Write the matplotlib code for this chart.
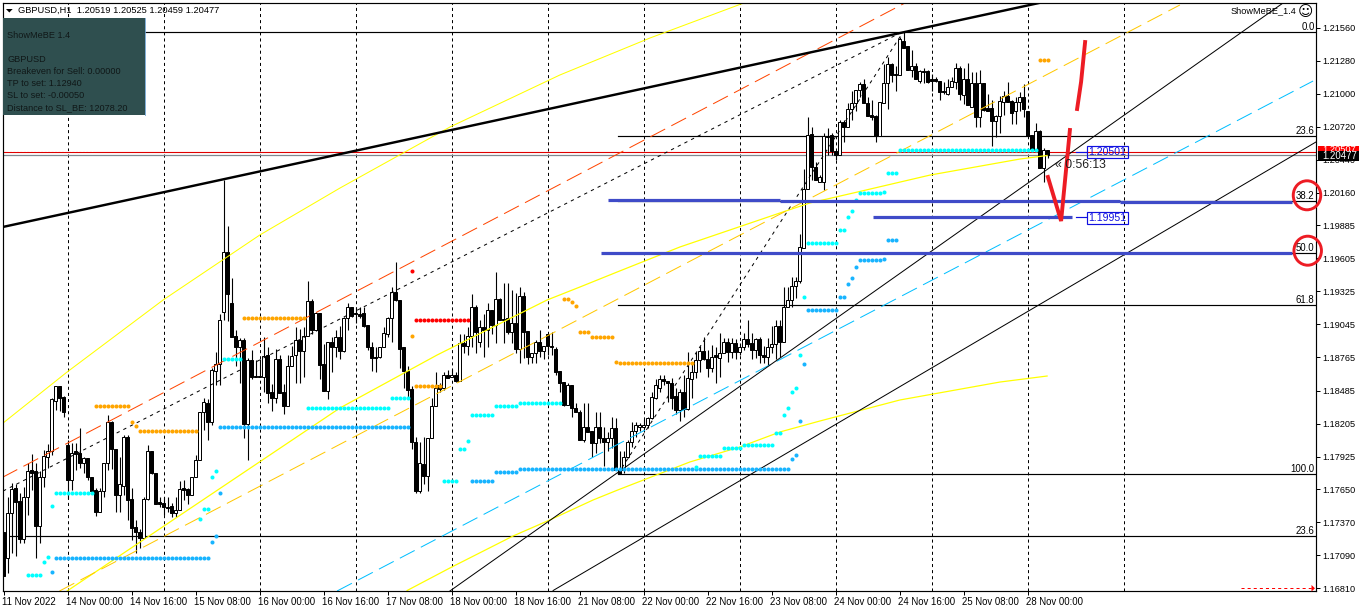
import numpy as np
import matplotlib
matplotlib.use('Agg')
import matplotlib.pyplot as plt
from matplotlib.patches import Ellipse, Rectangle
from matplotlib.transforms import ScaledTranslation

plt.rcParams['lines.scale_dashes'] = False
plt.rcParams['font.family'] = ['Liberation Sans', 'DejaVu Sans']

# GBPUSD H1 candles: values are the price in pips above 1.0000
opens = [1729,1707,1745,1766,1755,1723,1758,1781,1780,1734,
1775,1792,1797,1840,1852,1843,1802,1773,1797,1796,
1787,1791,1775,1764,1746,1763,1787,1822,1799,1760,
1768,1809,1757,1733,1729,1724,1757,1797,1779,1754,
1753,1750,1751,1745,1747,1766,1765,1760,1775,1790,
1830,1838,1822,1865,1871,1915,1966,1923,1895,1885,
1891,1820,1874,1861,1861,1860,1879,1847,1842,1875,
1847,1835,1869,1879,1891,1882,1895,1924,1900,1914,
1871,1848,1890,1885,1894,1882,1910,1919,1914,1913,
1914,1904,1885,1877,1877,1885,1896,1910,1932,1925,
1885,1865,1850,1805,1763,1786,1776,1808,1835,1853,
1851,1862,1860,1862,1857,1889,1886,1895,1919,1890,
1902,1900,1917,1904,1926,1909,1910,1898,1906,1884,
1929,1899,1877,1880,1890,1882,1896,1886,1884,1865,
1856,1836,1853,1834,1830,1807,1818,1814,1804,1818,
1808,1805,1808,1817,1781,1781,1792,1805,1814,1818,
1818,1819,1825,1842,1851,1858,1857,1855,1844,1832,
1847,1833,1858,1864,1874,1882,1875,1868,1879,1876,
1880,1890,1881,1889,1881,1885,1892,1889,1883,1892,
1879,1877,1885,1888,1903,1890,1919,1925,1937,1941,
1969,2019,2066,2038,2025,2025,2064,2065,2051,2048,
2076,2072,2087,2092,2103,2108,2092,2082,2081,2064,
2092,2109,2125,2117,2116,2145,2140,2120,2123,2111,
2119,2119,2112,2112,2111,2102,2100,2106,2110,2122,
2099,2112,2089,2109,2080,2109,2088,2088,2077,2081,
2093,2098,2094,2085,2093,2097,2085,2065,2052,2068,
2037,2051.9]
highs = [1729,1758,1770,1769,1762,1767,1787,1795,1787,1780,
1798,1803,1842,1852,1852,1844,1807,1804,1804,1817,
1792,1791,1775,1766,1766,1787,1828,1823,1799,1792,
1811,1811,1766,1739,1731,1758,1802,1797,1779,1758,
1758,1758,1753,1758,1772,1773,1766,1775,1794,1830,
1842,1841,1868,1881,1913,2027,1988,1944,1900,1893,
1893,1876,1883,1874,1875,1894,1885,1854,1884,1879,
1854,1879,1886,1902,1901,1902,1941,1926,1915,1914,
1888,1890,1894,1900,1903,1911,1923,1919,1919,1919,
1919,1904,1890,1885,1885,1902,1911,1936,1957,1925,
1885,1869,1852,1809,1805,1809,1808,1842,1864,1855,
1864,1866,1867,1864,1896,1896,1902,1930,1921,1908,
1913,1923,1917,1949,1927,1940,1940,1934,1931,1936,
1932,1899,1880,1891,1900,1886,1897,1898,1885,1865,
1856,1855,1853,1838,1832,1838,1838,1814,1830,1830,
1818,1813,1826,1825,1797,1797,1807,1822,1822,1821,
1824,1826,1847,1858,1862,1862,1857,1859,1851,1850,
1862,1881,1872,1881,1886,1894,1883,1887,1885,1897,
1893,1893,1893,1892,1889,1897,1908,1897,1893,1894,
1886,1893,1903,1908,1908,1936,1936,1945,1945,1981,
2036,2080,2072,2042,2031,2067,2071,2067,2051,2078,
2078,2092,2102,2103,2110,2112,2097,2095,2082,2093,
2125,2131,2126,2123,2148,2153,2140,2137,2126,2120,
2122,2120,2117,2114,2111,2110,2112,2114,2126,2123,
2122,2126,2118,2118,2120,2109,2100,2095,2082,2098,
2102,2110,2095,2097,2101,2108,2085,2065,2075,2069,
2054,2052.5]
lows = [1691,1694,1711,1708,1719,1719,1743,1764,1707,1719,
1767,1783,1794,1832,1831,1826,1757,1764,1781,1783,
1779,1773,1763,1742,1746,1758,1781,1782,1746,1746,
1760,1739,1722,1711,1715,1724,1756,1778,1752,1750,
1743,1746,1741,1741,1747,1756,1752,1760,1775,1790,
1815,1807,1819,1853,1853,1908,1907,1894,1869,1855,
1808,1790,1858,1860,1860,1847,1838,1831,1838,1846,
1829,1835,1869,1855,1855,1860,1895,1896,1899,1858,
1848,1841,1864,1877,1875,1881,1900,1911,1906,1910,
1902,1883,1865,1864,1876,1885,1894,1890,1924,1868,
1851,1841,1799,1762,1762,1769,1763,1808,1835,1847,
1849,1859,1860,1856,1857,1880,1879,1885,1880,1885,
1877,1885,1896,1889,1908,1889,1896,1889,1880,1872,
1876,1871,1872,1872,1877,1875,1879,1879,1862,1847,
1835,1836,1826,1830,1807,1805,1813,1792,1796,1804,
1785,1797,1800,1781,1778,1779,1791,1801,1809,1814,
1814,1817,1824,1841,1847,1853,1839,1833,1829,1823,
1826,1832,1842,1859,1864,1874,1860,1864,1855,1860,
1880,1873,1876,1875,1879,1883,1885,1875,1876,1872,
1872,1870,1880,1875,1877,1890,1919,1919,1927,1940,
1969,2019,2027,2027,2025,2018,2048,2048,2044,2048,
2059,2072,2078,2085,2097,2092,2081,2078,2059,2064,
2092,2087,2110,2102,2116,2139,2120,2114,2112,2109,
2109,2109,2102,2110,2095,2100,2099,2106,2104,2095,
2091,2090,2089,2072,2072,2085,2085,2056,2063,2067,
2082,2093,2074,2074,2085,2080,2064,2053,2051,2037,
2025,2045.9]
closes = [1691,1745,1765,1754,1723,1758,1780,1779,1734,1775,
1793,1797,1841,1852,1842,1830,1773,1796,1795,1787,
1791,1775,1763,1746,1763,1787,1822,1799,1760,1769,
1809,1756,1732,1729,1724,1757,1797,1779,1752,1752,
1750,1749,1745,1747,1765,1764,1760,1775,1790,1830,
1839,1822,1866,1871,1908,1966,1930,1894,1885,1891,
1820,1874,1860,1860,1860,1878,1846,1842,1875,1846,
1835,1869,1878,1891,1882,1895,1924,1900,1914,1870,
1848,1890,1885,1894,1882,1910,1919,1912,1913,1912,
1903,1885,1876,1876,1885,1897,1910,1932,1925,1884,
1865,1849,1805,1763,1787,1776,1808,1835,1851,1850,
1862,1859,1862,1857,1889,1886,1895,1919,1898,1902,
1900,1917,1904,1926,1908,1908,1898,1906,1884,1929,
1898,1877,1880,1890,1882,1886,1886,1885,1864,1855,
1836,1853,1834,1830,1807,1818,1813,1804,1818,1808,
1805,1808,1817,1781,1778,1792,1805,1814,1819,1819,
1819,1825,1843,1853,1858,1857,1855,1842,1832,1847,
1833,1859,1864,1874,1882,1875,1868,1877,1877,1880,
1890,1881,1889,1881,1885,1892,1888,1883,1892,1879,
1877,1885,1888,1903,1890,1919,1925,1937,1941,1970,
2019,2065,2038,2027,2029,2064,2063,2051,2048,2076,
2072,2087,2092,2103,2108,2092,2081,2080,2064,2093,
2109,2125,2116,2116,2146,2139,2120,2123,2112,2119,
2118,2110,2111,2111,2101,2101,2106,2111,2122,2100,
2112,2090,2109,2080,2109,2086,2085,2077,2081,2094,
2098,2093,2084,2093,2097,2087,2064,2053,2068,2037,
2052,2047.7]

date_labels = ['11 Nov 2022','14 Nov 00:00','14 Nov 16:00','15 Nov 08:00','16 Nov 00:00',
               '16 Nov 16:00','17 Nov 08:00','18 Nov 00:00','18 Nov 16:00','21 Nov 08:00',
               '22 Nov 00:00','22 Nov 16:00','23 Nov 08:00','24 Nov 00:00','24 Nov 16:00',
               '25 Nov 08:00','28 Nov 00:00']
price_ticks = [1.21560,1.21280,1.21000,1.20720,1.20440,1.20160,1.19885,1.19605,1.19325,
               1.19045,1.18765,1.18485,1.18205,1.17925,1.17650,1.17370,1.17090,1.16810]
grid_candles = [16,40,64,88,112,136,160,184,208,232,256,280]

# indicator dot runs: first candle, last candle, level in pips
cyan_runs = [(6,9,1692),(10,10,1703),(11,11,1707.3),(12,12,1750.5),(13,22,1761.5),(49,49,1739.4),
 (50,51,1747.9),(52,52,1775),(53,53,1780.1),(55,59,1875),(76,96,1833.5),(97,101,1842),
 (110,113,1771.6),(114,115,1798.7),(116,116,1805.5),(117,122,1827.5),(123,128,1835.2),
 (129,139,1837.7),(173,173,1784),(174,179,1792.8),(180,184,1799.6),(185,192,1802.1),
 (193,194,1812.3),(195,195,1827.5),(196,196,1833.5),(197,197,1847.3),(198,198,1850.4),
 (199,199,1878.4),(200,200,1927.5),(201,208,1973.2),(209,210,1984.2),(211,211,1995.2),
 (212,212,2000.3),(213,213,2009.6),(214,219,2015.6),(220,220,2016.4),(221,223,2032.5),(224,258,2052)]
blue_runs = [(12,12,1694.6),(13,51,1706.4),(52,52,1720),(53,53,1725),(54,54,1761.5),(54,101,1817.9),
 (117,122,1771.6),(123,128,1779.3),(129,196,1781.8),(197,197,1790.3),(198,198,1793.7),
 (199,199,1822.5),(200,200,1870.7),(201,208,1916.7),(209,210,1927.5),(211,211,1938.5),
 (212,212,1943.6),(213,213,1952.9),(214,219,1958.8),(220,220,1959.7),(221,223,1975.8)]
orange_runs = [(23,31,1835.2),(32,32,1821.6),(33,33,1818.2),(34,48,1814),(60,75,1909.7),(102,102,1894.5),
 (103,109,1852.1),(140,141,1925.8),(142,142,1923.2),(143,143,1920.4),(144,146,1897.8),
 (147,152,1893.6),(153,153,1872.4),(154,172,1871.6),(259,261,2128.2)]
red_runs = [(102,102,1949.5),(103,116,1908)]

# lines: candle positions and levels in pips
thick_x, thick_y = [-0.25,258.9], [1987,2176.8]
redch_x, redch_y = [-0.25,225.6], [1775,2177.2]
midch_x, midch_y = [-0.1,224.1], [1763.4,2151.3]
swing_x, swing_y = [153.6,224.9], [1777.8,2152.2]
gold_x, gold_y = [14,294.1], [1678.7,2175.1]
sky_x, sky_y = [83.4,327.4], [1678.7,2110.7]
ch1_x, ch1_y = [111.6,319.9], [1678.7,2176.8]
ch2_x, ch2_y = [137.4,328.1], [1679.1,2059]
yel1_x = [-0.1,15.9,39.9,64.1,84.1,111.6,139.1,161.6,185.4]
yel1_y = [1821,1864.2,1925.2,1980.3,2020,2071.7,2115.8,2147.1,2177.2]
yel2_x = [15.9,84.1,108.4,125.9,135.9,144.1,153.4,169.1,194.1,201.6,212.4,231.6,254.1,260.9]
yel2_y = [1678.7,1833.7,1878.6,1908.3,1925.2,1936.2,1948.9,1970.1,1998.9,2007.4,2015.8,2031,2044.6,2047.6]
yel3_x = [100.9,111.6,127.4,136.6,147.4,153.6,171.6,184.1,194.1,204.1,224.1,249.1,260.9]
yel3_y = [1679.1,1698.2,1725.3,1738.9,1755.8,1764.3,1788,1800.7,1813.4,1822.7,1840.5,1855.7,1860.8]
fib_levels = [2151.9,2063.9,2009,1964.8,1920.7,1777.8,1725]
fib_start = [-0.25,153.6,153.6,153.6,153.6,153.6,-0.25]
fib_names = ['0.0','23.6','38.2','50.0','61.8','100.0','23.6']
level_runs = [(151.1,194.1,2009.6),(194.1,279.1,2008.8),(279.1,322.1,2007.9),(217.4,267.1,1995.2),(149.4,322.1,1964.8)]
ask_pips, bid_pips = 2050.7, 2047.7
stroke1_x, stroke1_y = [261.1,264.4,266.6], [2029.4,1992.1,2069.2]
stroke2_x, stroke2_y = [268.4,269.4,270.4], [2087,2110,2143.7]

def P(v):
    return 1 + np.asarray(v, dtype=float) / 1e4

W, H = 1362, 612
fig = plt.figure(figsize=(W/100, H/100), dpi=100, facecolor='white')
ax = fig.add_axes([2.5/W, 1-591/H, (1316-2.5)/W, (591-2.5)/H])
ax.set_xlim(-0.25, 328.125)
ax.set_ylim(P(1678.7), P(2177.2))
ax.set_facecolor('white')
for s in ax.spines.values():
    s.set_linewidth(0.85)
    s.set_color('black')
    s.set_zorder(20)

dash = (0, (2.2, 2.2))
for g in grid_candles:
    ax.plot([g, g], [P(1678.7), P(2177.2)], color='k', lw=0.72, ls=dash, zorder=1)

# fibonacci levels
for lv, st in zip(fib_levels, fib_start):
    ax.plot([st, 328.125], [P(lv), P(lv)], color='k', lw=0.85, zorder=2)
# ask / bid lines
ax.axhline(P(ask_pips), color='#e00000', lw=0.8, zorder=2)
ax.axhline(P(bid_pips), color='#808890', lw=0.9, zorder=2)

# candles
n = len(opens)
xs = np.arange(n)
o, h, l, c = P(opens), P(highs), P(lows), P(closes)
ax.vlines(xs, l, h, color='k', lw=0.8, zorder=3)
up = c >= o
bot = np.minimum(o, c)
hgt = np.maximum(np.abs(c - o), 0.00004)
ax.bar(xs[up], hgt[up], bottom=bot[up], width=0.55, facecolor='white', edgecolor='k', linewidth=0.72, zorder=4)
ax.bar(xs[~up], hgt[~up], bottom=bot[~up], width=0.55, facecolor='k', edgecolor='k', linewidth=0.72, zorder=4)

# channels
long_dash = (0, (12, 5))
short_dash = (0, (2.4, 3))
ax.plot(yel1_x, P(yel1_y), color='#ffff00', lw=0.75, zorder=5)
ax.plot(yel2_x, P(yel2_y), color='#ffff00', lw=0.9, zorder=5)
ax.plot(yel3_x, P(yel3_y), color='#ffff00', lw=0.9, zorder=5)
ax.plot(gold_x, P(gold_y), color='#ffc800', lw=0.72, ls=long_dash, zorder=5)
ax.plot(redch_x, P(redch_y), color='#ff4500', lw=0.72, ls=long_dash, zorder=5)
ax.plot(sky_x, P(sky_y), color='#00bfff', lw=0.72, ls=long_dash, zorder=5)
ax.plot(midch_x, P(midch_y), color='k', lw=0.72, ls=short_dash, zorder=5)
ax.plot(swing_x, P(swing_y), color='k', lw=0.72, ls=short_dash, zorder=5)
ax.plot(ch1_x, P(ch1_y), color='k', lw=0.72, zorder=5)
ax.plot(ch2_x, P(ch2_y), color='k', lw=0.72, zorder=5)
ax.plot(thick_x, P(thick_y), color='k', lw=1.75, zorder=6)

# indicator dots
for runs, col in [(blue_runs, '#18b4ff'), (cyan_runs, '#00ffff'), (orange_runs, '#ffa500'), (red_runs, '#ff0000')]:
    dx, dy = [], []
    for a, b, lev in runs:
        for k in range(a, b + 1):
            dx.append(k)
            dy.append(lev)
    ax.scatter(dx, P(dy), s=8.5, marker='o', color=col, linewidths=0, zorder=7)

# support / resistance levels
for a, b, lev in level_runs:
    ax.plot([a, b], [P(lev), P(lev)], color='#3f4bc8', lw=2.3, solid_capstyle='butt', zorder=8)
# hand drawn arrows
ax.plot(stroke1_x, P(stroke1_y), color='#ed1c24', lw=2.8, solid_joinstyle='miter', zorder=9)
ax.plot(stroke2_x, P(stroke2_y), color='#ed1c24', lw=2.8, zorder=9)

# axes ticks
ax.yaxis.tick_right()
ax.set_yticks(price_ticks)
ax.set_yticklabels(['%.5f' % v for v in price_ticks], fontsize=6.6, color='k')
ax.set_xticks(np.arange(0, 17 * 16, 16))
ax.set_xticklabels(date_labels, ha='left', fontsize=6.9, color='k')
ax.tick_params(axis='y', length=3, width=0.72, pad=1.5)
ax.tick_params(axis='x', length=3, width=0.72, pad=1.5)
shift = ScaledTranslation(-1.3/100, 0, fig.dpi_scale_trans)
for lab in ax.get_xticklabels():
    lab.set_transform(lab.get_transform() + shift)

# overlay in figure pixels for terminal annotations
ov = fig.add_axes([0, 0, 1, 1], zorder=30)
ov.set_xlim(0, W)
ov.set_ylim(H, 0)
ov.axis('off')
ov.patch.set_alpha(0)

tx = dict(fontsize=6.7, color='k', va='center')
ov.fill([6, 12.7, 9.3], [9, 9, 12.5], color='k', lw=0)
ov.text(18, 10.5, 'GBPUSD,H1  1.20519 1.20525 1.20459 1.20477', **tx)

ov.add_patch(Rectangle((3, 18), 142, 97, facecolor='#2f4f4f', edgecolor='none', zorder=3))
ov.plot([145, 145], [18, 115], color='#6aa0d0', lw=0.6, zorder=3)
panel_lines = [(35.5,'ShowMeBE 1.4'),(59.5,'GBPUSD'),(71.5,'Breakeven for Sell: 0.00000'),
               (83.5,'TP to set: 1.12940'),(95.5,'SL to set: -0.00050'),(107.5,'Distance to SL_BE: 12078.20')]
for yy, s in panel_lines:
    ov.text(7, yy, s, fontsize=6.6, color='#101818', va='center', zorder=4)
ov.plot([8, 95], [151, 151], color='white', lw=0.6, ls=(0, (1, 1.5)), zorder=2)

ov.text(1231, 11, 'ShowMeBE_1.4', fontsize=6.6, color='k', va='center')
ov.text(1305.5, 11.5, '\u263a', fontsize=10.5, family='DejaVu Sans', ha='center', va='center', color='k')

fib_label_y = [27, 130.7, 196, 247.7, 300, 469, 530.7]
for yy, s in zip(fib_label_y, fib_names):
    ov.text(1314.5, yy, s, fontsize=6.9, color='k', ha='right', va='center')

# price boxes
ov.add_patch(Rectangle((1086.5, 146), 41, 12.3, facecolor='none', edgecolor='#1010e0', lw=0.85))
ov.text(1107, 152.3, '1.20501', fontsize=7.6, color='#1010e0', ha='center', va='center')
ov.plot([1076, 1086], [151.7, 151.7], color='#1010e0', lw=0.85)
ov.add_patch(Rectangle((1086.5, 211.7), 41, 12, facecolor='none', edgecolor='#1010e0', lw=0.85))
ov.text(1107, 217.8, '1.19951', fontsize=7.6, color='#1010e0', ha='center', va='center')
ov.plot([1076, 1086], [217.3, 217.3], color='#1010e0', lw=0.85)
ov.text(1055, 165, '\u00ab 0:56:13', fontsize=8.8, color='#202020', va='center')

ov.add_patch(Rectangle((1318, 146), 41, 8, facecolor='#ff0000', edgecolor='none', zorder=3))
ov.text(1322, 149.5, '1.20507', fontsize=6.7, color='white', va='center', zorder=3)
ov.add_patch(Rectangle((1318, 150.5), 41, 10, facecolor='k', edgecolor='none', zorder=4))
ov.text(1322, 155.6, '1.20477', fontsize=6.9, color='white', va='center', zorder=5)

# circles around 38.2 and 50.0
ov.add_patch(Ellipse((1307, 195.3), 27.5, 29, facecolor='none', edgecolor='#ed1c24', lw=2.1, zorder=6))
ov.add_patch(Ellipse((1307.7, 250.7), 27.5, 29, facecolor='none', edgecolor='#ed1c24', lw=2.1, zorder=6))

# pending order arrow at the lower right
ov.plot([1241, 1312], [588.3, 588.3], color='#ff0000', lw=0.72, ls=(0, (2.2, 2.2)))
ov.fill([1311.5, 1315, 1311.5], [585, 588.3, 591.5], color='#ff0000', lw=0)

fig.savefig('out.png', dpi=100, facecolor='white')
